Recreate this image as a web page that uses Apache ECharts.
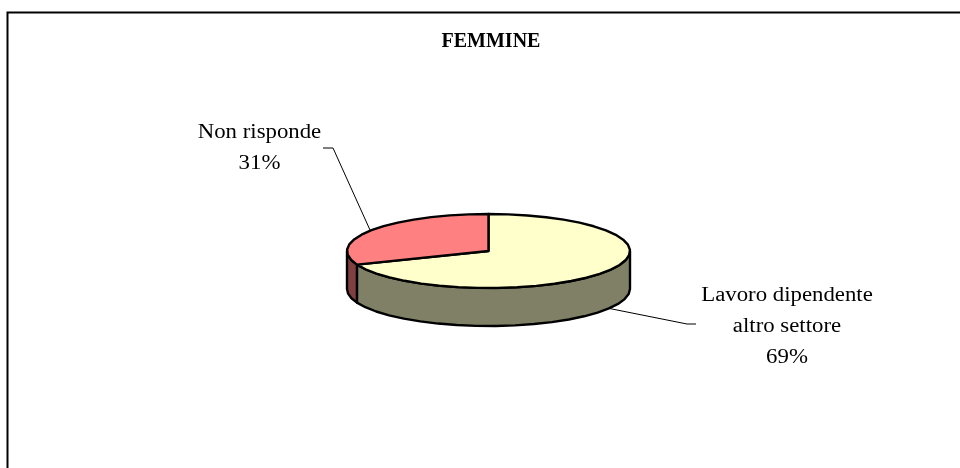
<!DOCTYPE html>
<html><head><meta charset="utf-8">
<style>html,body{margin:0;padding:0;background:#fff}#c{width:960px;height:468px}</style>
<script src="https://cdn.jsdelivr.net/npm/echarts@6/dist/echarts.min.js"></script>
</head><body><div id="c"></div>
<script>
const categories = ['Lavoro dipendente\naltro settore', 'Non risponde'];
const percentages = [69, 31];
const topColors = ['#FFFFCC', '#FF8080'];
const sideColors = ['#808066', '#804040'];
const chartTitle = 'FEMMINE';

const CX = 488.5, CY = 251, RX = 141.5, RY = 37, DEPTH = 38;
const total = percentages.reduce((a, b) => a + b, 0);
const font = '20px "Liberation Serif"';
const labelPos = [
  {x: 787, y: 327, line: [[696,324],[687,324],[607,308]]},
  {x: 259.5, y: 148, line: [[323,148],[333,148],[370,230]]}
];
function pt(t, dy) { return [CX + RX * Math.sin(t), CY - RY * Math.cos(t) + (dy || 0)]; }

function renderItem(params, api) {
  const i = params.dataIndex;
  const before = percentages.slice(0, i).reduce((a, b) => a + b, 0);
  const a0 = before / total * 2 * Math.PI;
  const a1 = (before + api.value(0)) / total * 2 * Math.PI;
  const children = [];
  const s0 = Math.max(a0, Math.PI / 2), s1 = Math.min(a1, 3 * Math.PI / 2);
  const style = {stroke: '#000', lineWidth: 2.4, lineJoin: 'round'};
  if (s1 > s0) {
    const up = [], down = [];
    const n = Math.max(2, Math.ceil((s1 - s0) * 7));
    for (let k = 0; k <= n; k++) {
      const t = s0 + (s1 - s0) * k / n;
      up.push(pt(t)); down.unshift(pt(t, DEPTH));
    }
    children.push({type: 'polygon', z2: 1, shape: {points: up.concat(down)},
      style: Object.assign({fill: sideColors[i]}, style)});
  }
  const pts = [[CX, CY]];
  const m = Math.ceil((a1 - a0) * 7);
  for (let k = 0; k <= m; k++) pts.push(pt(a0 + (a1 - a0) * k / m));
  children.push({type: 'polygon', z2: 2, shape: {points: pts},
    style: Object.assign({fill: topColors[i]}, style)});
  const lp = labelPos[i];
  children.push({type: 'polyline', z2: 0, shape: {points: lp.line},
    style: {stroke: '#000', lineWidth: 1, fill: null}});
  children.push({type: 'text', z2: 3, x: lp.x, y: lp.y, scaleX: 1.14, style: {
    text: categories[i] + '\n' + api.value(0) + '%',
    font: font, fill: '#000', align: 'center', verticalAlign: 'middle', lineHeight: 31}});
  return {type: 'group', children};
}

const chart = echarts.init(document.getElementById('c'), null, {renderer: 'canvas'});
chart.setOption({
  animation: false,
  backgroundColor: '#fff',
  title: {text: chartTitle, left: 486, top: 27, textAlign: 'center',
    textStyle: {fontFamily: 'Liberation Serif', fontSize: 20, fontWeight: 'bold', color: '#000'}},
  graphic: [{type: 'polyline', silent: true, shape: {points: [[7.5,468],[7.5,12.5],[960,12.5]]},
    style: {stroke: '#000', lineWidth: 2, fill: null}}],
  series: [{type: 'custom', coordinateSystem: 'none', renderItem,
    data: percentages.map((v, i) => ({name: categories[i], value: [v]}))}]
});
</script></body></html>
